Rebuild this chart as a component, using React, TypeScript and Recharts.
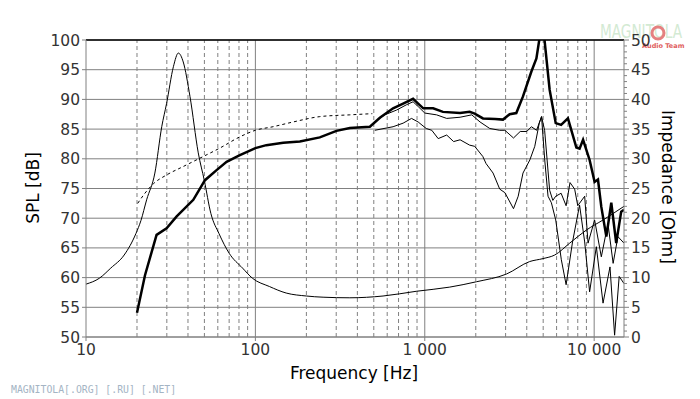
import { LineChart, Line, XAxis, YAxis, CartesianGrid, ReferenceLine } from "recharts";

// axis ticks
const freqTicks = [10, 100, 1000, 10000];
const minorFreqs = [
  20, 30, 40, 50, 60, 70, 80, 90,
  200, 300, 400, 500, 600, 700, 800, 900,
  2000, 3000, 4000, 5000, 6000, 7000, 8000, 9000,
];
const splTicks = [50, 55, 60, 65, 70, 75, 80, 85, 90, 95, 100];
const ohmTicks = Array.from({ length: 51 }, (_, i) => i);

// on-axis SPL (thick)
const spl0Freq = [
  20, 22.3, 26.1, 29.9, 34.3, 43, 50.4, 59, 67.6, 81, 100, 116, 146, 183, 240, 301, 361, 474, 543,
  650, 745, 853, 914, 980, 1120, 1280, 1616, 1841, 1970, 2206, 2600, 2896, 3170, 3470, 3800, 4260,
  4560, 4800, 5050, 5460, 5930, 6380, 7000, 7850, 8200, 8600, 9400, 10060, 10530, 11020, 11800,
  12620, 13490, 14440, 15000,
];
const spl0Db = [
  54.1, 60.4, 67.2, 68.3, 70.3, 73.1, 76.4, 78.1, 79.5, 80.6, 81.8, 82.3, 82.7, 82.9, 83.6, 84.7, 85.2,
  85.4, 86.9, 88.5, 89.3, 90.1, 89.3, 88.5, 88.5, 87.9, 87.7, 87.9, 87.6, 86.8, 86.7, 86.6, 87.5, 87.7,
  90.5, 94.7, 96.9, 101, 101, 91.6, 86, 85.7, 86.8, 81.9, 81.7, 83.2, 79.8, 76.1, 76.5, 71.9, 66.9,
  72.6, 65.8, 71.1, 71.4,
];

// simulated low end (dashed)
const dashFreq = [20.2, 22, 25, 30, 37.5, 47, 61.6, 81, 100, 127, 167, 240, 361, 490];
const dashDb = [72.5, 74, 75.8, 77.3, 78.7, 80.1, 81.8, 83.7, 84.8, 85.4, 86.2, 87.1, 87.4, 87.6];

// off-axis 1 (thin, upper)
const spl30Freq = [
  507, 580, 681, 780, 853, 914, 1000, 1174, 1347, 1616, 1894, 2120, 2420, 2770, 2970, 3340, 3660,
  4000, 4260, 4570, 4890, 5100, 5460, 5700, 5930, 6380, 6830, 7200, 7670, 8000, 8790, 9200, 10060,
  11020, 12060, 12940, 13810, 15000,
];
const spl30Db = [
  86.2, 87.4, 88.2, 89.1, 89.6, 88.8, 87.7, 87.4, 86.8, 87.0, 87.4, 86.2, 85.1, 84.8, 84.8, 83.5, 84.6,
  84.6, 85.4, 84.8, 87.1, 84.8, 74.7, 73, 73.7, 74.2, 72.1, 76, 74.9, 72.1, 73.7, 65.8, 69.7, 63.5,
  69.1, 62.4, 66.9, 65.8,
];

// off-axis 2 (thin, lower)
const spl60Freq = [
  507, 650, 745, 835, 914, 1020, 1100, 1200, 1347, 1480, 1616, 1840, 1970, 2200, 2300, 2530, 2770,
  2970, 3340, 3560, 3800, 4170, 4460, 4740, 4890, 5100, 5340, 5590, 5930, 6400, 6830, 7450, 8200,
  8790, 9400, 10300, 11280, 12400, 13200, 14050, 15000,
];
const spl60Db = [
  84.8, 85.4, 86.0, 86.8, 86.2, 85.1, 84.8, 83.4, 84.0, 82.9, 83.2, 82.3, 82.1, 80.4, 79.2, 77.6, 74.9,
  74.3, 71.6, 73.7, 77.6, 79.8, 82.1, 86.0, 87.1, 80, 73.7, 72.6, 69.7, 63, 58.8, 66, 72.2, 66, 57.6,
  65.2, 55.7, 61.8, 50.3, 60.2, 59,
];

// impedance [Ohm]
const impFreq = [
  10, 12, 14, 16.8, 19.7, 21.1, 22.8, 25.5, 28, 29.9, 32.8, 35.1, 37.5, 41.1, 46, 49.9, 54.6, 61, 70,
  84, 96, 121, 152, 200, 251, 361, 567, 893, 1404, 2018, 3035, 4160, 4990, 5850, 7170, 8990, 11280,
  15000,
];
const impOhm = [
  8.9, 9.9, 11.6, 13.8, 17.4, 19.6, 23.1, 27.6, 35.4, 39.3, 45.5, 47.8, 46.3, 40.5, 31, 26.4, 20.8,
  17.4, 14.1, 11.6, 9.9, 8.5, 7.4, 6.9, 6.7, 6.6, 6.9, 7.7, 8.4, 9.3, 10.6, 12.7, 13.2, 13.8, 15.8, 18,
  19.7, 22,
];

const toPoints = (fs: number[], vs: number[]) => fs.map((f, i) => ({ f, v: vs[i] }));

const FONT = "'DejaVu Sans', Verdana, sans-serif";
const GRID = "#808080";

const fmtFreq = (v: number) => (v >= 1000 ? v.toLocaleString("en-US").replace(/,/g, " ") : String(v));

const OhmTick = (props: any) => {
  const { x, y, payload } = props;
  const major = payload.value % 5 === 0;
  return (
    <g>
      <line x1={x} x2={x + (major ? 5 : 3)} y1={y} y2={y} stroke={GRID} />
      {major && (
        <text x={x + 7} y={y} dy="0.36em" fontSize={15.5} fill="#333" fontFamily={FONT}>
          {payload.value}
        </text>
      )}
    </g>
  );
};

export default function App() {
  return (
    <div style={{ position: "absolute", left: 0, top: 0, width: 700, height: 399, background: "#fff", fontFamily: FONT }}>
      {/* faint site logo behind the chart, top right */}
      <svg style={{ position: "absolute", left: 598, top: 14 }} width={100} height={38}>
        <text x={2} y={24} fontSize={20} fontFamily="'DejaVu Sans Condensed', sans-serif" fill="#d3ead3" textLength={82} lengthAdjust="spacingAndGlyphs">
          MAGNITOLA
        </text>
        <circle cx={60} cy={19} r={6} fill="none" stroke="#e58080" strokeWidth={3} />
        <text x={44} y={34} fontSize={6.5} fontWeight="bold" fontFamily="'DejaVu Sans', sans-serif" fill="#e06060">
          Audio Team
        </text>
      </svg>

      <div style={{ position: "absolute", left: 0, top: 0 }}>
        <LineChart width={700} height={399} margin={{ top: 40, right: 36, bottom: 32, left: 46 }}>
          <CartesianGrid yAxisId="left" vertical={false} stroke={GRID} />
          <XAxis
            type="number"
            dataKey="f"
            scale="log"
            domain={[10, 15000]}
            allowDataOverflow
            ticks={freqTicks}
            tickFormatter={fmtFreq}
            interval={0}
            height={30}
            stroke={GRID}
            tickSize={4}
            tickMargin={3}
            tick={{ fontSize: 15.5, fill: "#333", fontFamily: FONT }}
          />
          <YAxis
            yAxisId="left"
            domain={[50, 100]}
            allowDataOverflow
            ticks={splTicks}
            interval={0}
            width={40}
            stroke={GRID}
            tickSize={4}
            tickMargin={2}
            tick={{ fontSize: 15.5, fill: "#333", fontFamily: FONT }}
          />
          <YAxis
            yAxisId="right"
            orientation="right"
            domain={[0, 50]}
            allowDataOverflow
            ticks={ohmTicks}
            interval={0}
            width={40}
            stroke={GRID}
            tickSize={0}
            tickMargin={0}
            tickLine={false}
            tick={<OhmTick />}
          />
          {minorFreqs.map((f) => (
            <ReferenceLine key={f} x={f} yAxisId="left" stroke={GRID} strokeDasharray="4 3" />
          ))}
          {freqTicks.slice(1).map((f) => (
            <ReferenceLine key={"d" + f} x={f} yAxisId="left" stroke={GRID} />
          ))}
          <ReferenceLine y={100} yAxisId="left" stroke="#000" strokeWidth={1.5} />

          <Line
            yAxisId="right"
            data={toPoints(impFreq, impOhm)}
            dataKey="v"
            type="monotone"
            stroke="#000"
            strokeWidth={1}
            dot={false}
            isAnimationActive={false}
          />
          <Line
            yAxisId="left"
            data={toPoints(dashFreq, dashDb)}
            dataKey="v"
            type="monotone"
            stroke="#000"
            strokeWidth={1}
            strokeDasharray="3 3"
            dot={false}
            isAnimationActive={false}
          />
          <Line
            yAxisId="left"
            data={toPoints(spl60Freq, spl60Db)}
            dataKey="v"
            type="linear"
            stroke="#000"
            strokeWidth={1}
            dot={false}
            isAnimationActive={false}
          />
          <Line
            yAxisId="left"
            data={toPoints(spl30Freq, spl30Db)}
            dataKey="v"
            type="linear"
            stroke="#000"
            strokeWidth={1}
            dot={false}
            isAnimationActive={false}
          />
          <Line
            yAxisId="left"
            data={toPoints(spl0Freq, spl0Db)}
            dataKey="v"
            type="linear"
            stroke="#000"
            strokeWidth={2.5}
            dot={false}
            isAnimationActive={false}
          />
        </LineChart>
      </div>

      {/* axis titles */}
      <div style={{ position: "absolute", left: 33, top: 188, transform: "translate(-50%, -50%) rotate(-90deg)", fontSize: 17, whiteSpace: "nowrap", color: "#000" }}>
        SPL [dB]
      </div>
      <div style={{ position: "absolute", left: 668, top: 187, transform: "translate(-50%, -50%) rotate(90deg)", fontSize: 17, whiteSpace: "nowrap", color: "#000" }}>
        Impedance [Ohm]
      </div>
      <div style={{ position: "absolute", left: 354, top: 373, transform: "translate(-50%, -50%)", fontSize: 17, whiteSpace: "nowrap", color: "#000" }}>
        Frequency [Hz]
      </div>

      {/* site watermark */}
      <div style={{ position: "absolute", left: 11, top: 384, fontSize: 9.8, fontFamily: "'DejaVu Sans Mono', monospace", color: "#a4b4c4", whiteSpace: "nowrap" }}>
        MAGNITOLA[.ORG] [.RU] [.NET]
      </div>
    </div>
  );
}
